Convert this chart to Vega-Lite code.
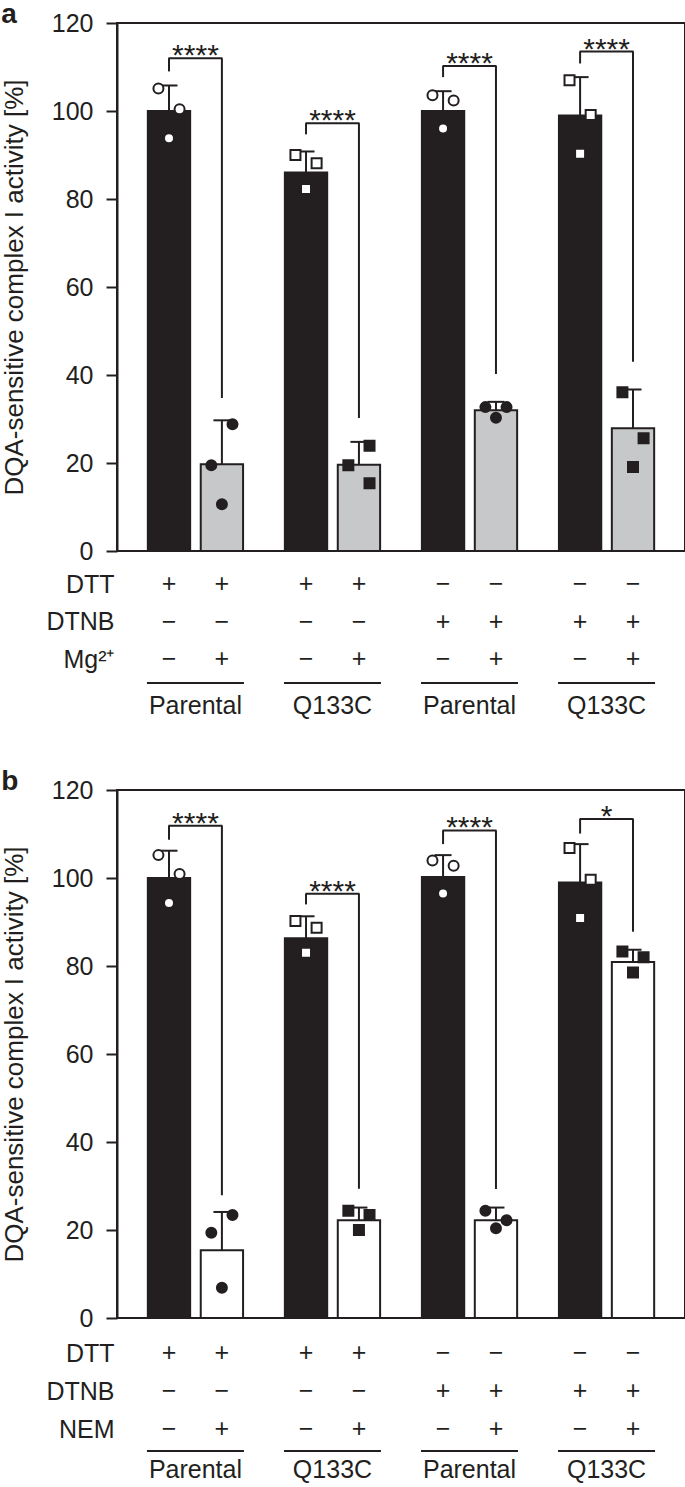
{
  "$schema": "https://vega.github.io/schema/vega-lite/v6.json",
  "padding": 0,
  "background": "white",
  "bounds": "flush",
  "spacing": 0,
  "config": {
    "font": "Liberation Sans",
    "view": {"stroke": null},
    "axis": {"labelFont": "Liberation Sans", "titleFont": "Liberation Sans", "labelColor": "#231f20", "titleColor": "#231f20", "domainColor": "#231f20", "tickColor": "#231f20"},
    "title": {"font": "Liberation Sans", "color": "#231f20"},
    "text": {"font": "Liberation Sans", "color": "#231f20"}
  },
  "datasets": {
    "barsA": [
      {"group": "G1", "line": "Parental", "treat": "minus", "kind": "ctrl", "mean": 100, "hi": 105.8},
      {"group": "G1", "line": "Parental", "treat": "plus", "kind": "Mg", "mean": 19.7, "hi": 29.7},
      {"group": "G2", "line": "Q133C", "treat": "minus", "kind": "ctrl", "mean": 86.0, "hi": 90.8},
      {"group": "G2", "line": "Q133C", "treat": "plus", "kind": "Mg", "mean": 19.6, "hi": 24.8},
      {"group": "G3", "line": "Parental", "treat": "minus", "kind": "ctrl", "mean": 100, "hi": 104.5},
      {"group": "G3", "line": "Parental", "treat": "plus", "kind": "Mg", "mean": 32.0, "hi": 33.9},
      {"group": "G4", "line": "Q133C", "treat": "minus", "kind": "ctrl", "mean": 99.0, "hi": 107.7},
      {"group": "G4", "line": "Q133C", "treat": "plus", "kind": "Mg", "mean": 27.9, "hi": 36.7}
    ],
    "ptsA": [
      {"group": "G1", "line": "Parental", "treat": "minus", "slot": "mL", "value": 105.1},
      {"group": "G1", "line": "Parental", "treat": "minus", "slot": "mR", "value": 100.4},
      {"group": "G1", "line": "Parental", "treat": "minus", "slot": "mC", "value": 93.8},
      {"group": "G1", "line": "Parental", "treat": "plus", "slot": "pR", "value": 28.8},
      {"group": "G1", "line": "Parental", "treat": "plus", "slot": "pL", "value": 19.5},
      {"group": "G1", "line": "Parental", "treat": "plus", "slot": "pC", "value": 10.6},
      {"group": "G2", "line": "Q133C", "treat": "minus", "slot": "mL", "value": 90.0},
      {"group": "G2", "line": "Q133C", "treat": "minus", "slot": "mR", "value": 88.1},
      {"group": "G2", "line": "Q133C", "treat": "minus", "slot": "mC", "value": 82.3},
      {"group": "G2", "line": "Q133C", "treat": "plus", "slot": "pR", "value": 23.9},
      {"group": "G2", "line": "Q133C", "treat": "plus", "slot": "pL", "value": 19.5},
      {"group": "G2", "line": "Q133C", "treat": "plus", "slot": "pR", "value": 15.4},
      {"group": "G3", "line": "Parental", "treat": "minus", "slot": "mL", "value": 103.6},
      {"group": "G3", "line": "Parental", "treat": "minus", "slot": "mR", "value": 102.4},
      {"group": "G3", "line": "Parental", "treat": "minus", "slot": "mC", "value": 96.0},
      {"group": "G3", "line": "Parental", "treat": "plus", "slot": "pL", "value": 32.7},
      {"group": "G3", "line": "Parental", "treat": "plus", "slot": "pR", "value": 32.7},
      {"group": "G3", "line": "Parental", "treat": "plus", "slot": "pC", "value": 30.3},
      {"group": "G4", "line": "Q133C", "treat": "minus", "slot": "mL", "value": 107.0},
      {"group": "G4", "line": "Q133C", "treat": "minus", "slot": "mR", "value": 99.1},
      {"group": "G4", "line": "Q133C", "treat": "minus", "slot": "mC", "value": 90.3},
      {"group": "G4", "line": "Q133C", "treat": "plus", "slot": "pL", "value": 36.1},
      {"group": "G4", "line": "Q133C", "treat": "plus", "slot": "pR", "value": 25.6},
      {"group": "G4", "line": "Q133C", "treat": "plus", "slot": "pC", "value": 19.1}
    ],
    "legsA": [
      {"group": "G1", "treat": "minus", "y1": 109.0, "y2": 112.0},
      {"group": "G1", "treat": "plus", "y1": 34.8, "y2": 112.0},
      {"group": "G2", "treat": "minus", "y1": 94.7, "y2": 97.2},
      {"group": "G2", "treat": "plus", "y1": 30.2, "y2": 97.2},
      {"group": "G3", "treat": "minus", "y1": 107.7, "y2": 110.2},
      {"group": "G3", "treat": "plus", "y1": 40.2, "y2": 110.2},
      {"group": "G4", "treat": "minus", "y1": 110.8, "y2": 113.5},
      {"group": "G4", "treat": "plus", "y1": 43.0, "y2": 113.5}
    ],
    "topsA": [
      {"group": "G1", "ytop": 112.0, "stars": "****"},
      {"group": "G2", "ytop": 97.2, "stars": "****"},
      {"group": "G3", "ytop": 110.2, "stars": "****"},
      {"group": "G4", "ytop": 113.5, "stars": "****"}
    ],
    "tabA": [
      {"group": "G1", "treat": "minus", "row": "DTT", "sign": "+"},
      {"group": "G1", "treat": "plus", "row": "DTT", "sign": "+"},
      {"group": "G2", "treat": "minus", "row": "DTT", "sign": "+"},
      {"group": "G2", "treat": "plus", "row": "DTT", "sign": "+"},
      {"group": "G3", "treat": "minus", "row": "DTT", "sign": "−"},
      {"group": "G3", "treat": "plus", "row": "DTT", "sign": "−"},
      {"group": "G4", "treat": "minus", "row": "DTT", "sign": "−"},
      {"group": "G4", "treat": "plus", "row": "DTT", "sign": "−"},
      {"group": "G1", "treat": "minus", "row": "DTNB", "sign": "−"},
      {"group": "G1", "treat": "plus", "row": "DTNB", "sign": "−"},
      {"group": "G2", "treat": "minus", "row": "DTNB", "sign": "−"},
      {"group": "G2", "treat": "plus", "row": "DTNB", "sign": "−"},
      {"group": "G3", "treat": "minus", "row": "DTNB", "sign": "+"},
      {"group": "G3", "treat": "plus", "row": "DTNB", "sign": "+"},
      {"group": "G4", "treat": "minus", "row": "DTNB", "sign": "+"},
      {"group": "G4", "treat": "plus", "row": "DTNB", "sign": "+"},
      {"group": "G1", "treat": "minus", "row": "Mg²⁺", "sign": "−"},
      {"group": "G1", "treat": "plus", "row": "Mg²⁺", "sign": "+"},
      {"group": "G2", "treat": "minus", "row": "Mg²⁺", "sign": "−"},
      {"group": "G2", "treat": "plus", "row": "Mg²⁺", "sign": "+"},
      {"group": "G3", "treat": "minus", "row": "Mg²⁺", "sign": "−"},
      {"group": "G3", "treat": "plus", "row": "Mg²⁺", "sign": "+"},
      {"group": "G4", "treat": "minus", "row": "Mg²⁺", "sign": "−"},
      {"group": "G4", "treat": "plus", "row": "Mg²⁺", "sign": "+"}
    ],
    "grp": [
      {"group": "G1", "line": "Parental"},
      {"group": "G2", "line": "Q133C"},
      {"group": "G3", "line": "Parental"},
      {"group": "G4", "line": "Q133C"}
    ],
    "barsB": [
      {"group": "G1", "line": "Parental", "treat": "minus", "kind": "ctrl", "mean": 100, "hi": 106.2},
      {"group": "G1", "line": "Parental", "treat": "plus", "kind": "NEM", "mean": 15.4, "hi": 24.1},
      {"group": "G2", "line": "Q133C", "treat": "minus", "kind": "ctrl", "mean": 86.3, "hi": 91.3},
      {"group": "G2", "line": "Q133C", "treat": "plus", "kind": "NEM", "mean": 22.2, "hi": 25.1},
      {"group": "G3", "line": "Parental", "treat": "minus", "kind": "ctrl", "mean": 100.2, "hi": 105.2},
      {"group": "G3", "line": "Parental", "treat": "plus", "kind": "NEM", "mean": 22.2, "hi": 25.1},
      {"group": "G4", "line": "Q133C", "treat": "minus", "kind": "ctrl", "mean": 99.0, "hi": 107.7},
      {"group": "G4", "line": "Q133C", "treat": "plus", "kind": "NEM", "mean": 80.9, "hi": 83.7}
    ],
    "ptsB": [
      {"group": "G1", "line": "Parental", "treat": "minus", "slot": "mL", "value": 105.2},
      {"group": "G1", "line": "Parental", "treat": "minus", "slot": "mR", "value": 100.9},
      {"group": "G1", "line": "Parental", "treat": "minus", "slot": "mC", "value": 94.3},
      {"group": "G1", "line": "Parental", "treat": "plus", "slot": "pR", "value": 23.4},
      {"group": "G1", "line": "Parental", "treat": "plus", "slot": "pL", "value": 19.4},
      {"group": "G1", "line": "Parental", "treat": "plus", "slot": "pC", "value": 6.9},
      {"group": "G2", "line": "Q133C", "treat": "minus", "slot": "mL", "value": 90.2},
      {"group": "G2", "line": "Q133C", "treat": "minus", "slot": "mR", "value": 88.7},
      {"group": "G2", "line": "Q133C", "treat": "minus", "slot": "mC", "value": 83.0},
      {"group": "G2", "line": "Q133C", "treat": "plus", "slot": "pL", "value": 24.4},
      {"group": "G2", "line": "Q133C", "treat": "plus", "slot": "pR", "value": 23.4},
      {"group": "G2", "line": "Q133C", "treat": "plus", "slot": "pC", "value": 20.0},
      {"group": "G3", "line": "Parental", "treat": "minus", "slot": "mL", "value": 104.0},
      {"group": "G3", "line": "Parental", "treat": "minus", "slot": "mR", "value": 102.8},
      {"group": "G3", "line": "Parental", "treat": "minus", "slot": "mC", "value": 96.5},
      {"group": "G3", "line": "Parental", "treat": "plus", "slot": "pL", "value": 24.4},
      {"group": "G3", "line": "Parental", "treat": "plus", "slot": "pR", "value": 22.2},
      {"group": "G3", "line": "Parental", "treat": "plus", "slot": "pC", "value": 20.4},
      {"group": "G4", "line": "Q133C", "treat": "minus", "slot": "mL", "value": 106.8},
      {"group": "G4", "line": "Q133C", "treat": "minus", "slot": "mR", "value": 99.6},
      {"group": "G4", "line": "Q133C", "treat": "minus", "slot": "mC", "value": 90.9},
      {"group": "G4", "line": "Q133C", "treat": "plus", "slot": "pL", "value": 83.3},
      {"group": "G4", "line": "Q133C", "treat": "plus", "slot": "pR", "value": 82.0},
      {"group": "G4", "line": "Q133C", "treat": "plus", "slot": "pC", "value": 78.5}
    ],
    "legsB": [
      {"group": "G1", "treat": "minus", "y1": 108.7, "y2": 111.9},
      {"group": "G1", "treat": "plus", "y1": 27.9, "y2": 111.9},
      {"group": "G2", "treat": "minus", "y1": 94.0, "y2": 96.4},
      {"group": "G2", "treat": "plus", "y1": 29.4, "y2": 96.4},
      {"group": "G3", "treat": "minus", "y1": 107.7, "y2": 110.8},
      {"group": "G3", "treat": "plus", "y1": 29.3, "y2": 110.8},
      {"group": "G4", "treat": "minus", "y1": 110.1, "y2": 113.4},
      {"group": "G4", "treat": "plus", "y1": 87.8, "y2": 113.4}
    ],
    "topsB": [
      {"group": "G1", "ytop": 111.9, "stars": "****"},
      {"group": "G2", "ytop": 96.4, "stars": "****"},
      {"group": "G3", "ytop": 110.8, "stars": "****"},
      {"group": "G4", "ytop": 113.4, "stars": "*"}
    ],
    "tabB": [
      {"group": "G1", "treat": "minus", "row": "DTT", "sign": "+"},
      {"group": "G1", "treat": "plus", "row": "DTT", "sign": "+"},
      {"group": "G2", "treat": "minus", "row": "DTT", "sign": "+"},
      {"group": "G2", "treat": "plus", "row": "DTT", "sign": "+"},
      {"group": "G3", "treat": "minus", "row": "DTT", "sign": "−"},
      {"group": "G3", "treat": "plus", "row": "DTT", "sign": "−"},
      {"group": "G4", "treat": "minus", "row": "DTT", "sign": "−"},
      {"group": "G4", "treat": "plus", "row": "DTT", "sign": "−"},
      {"group": "G1", "treat": "minus", "row": "DTNB", "sign": "−"},
      {"group": "G1", "treat": "plus", "row": "DTNB", "sign": "−"},
      {"group": "G2", "treat": "minus", "row": "DTNB", "sign": "−"},
      {"group": "G2", "treat": "plus", "row": "DTNB", "sign": "−"},
      {"group": "G3", "treat": "minus", "row": "DTNB", "sign": "+"},
      {"group": "G3", "treat": "plus", "row": "DTNB", "sign": "+"},
      {"group": "G4", "treat": "minus", "row": "DTNB", "sign": "+"},
      {"group": "G4", "treat": "plus", "row": "DTNB", "sign": "+"},
      {"group": "G1", "treat": "minus", "row": "NEM", "sign": "−"},
      {"group": "G1", "treat": "plus", "row": "NEM", "sign": "+"},
      {"group": "G2", "treat": "minus", "row": "NEM", "sign": "−"},
      {"group": "G2", "treat": "plus", "row": "NEM", "sign": "+"},
      {"group": "G3", "treat": "minus", "row": "NEM", "sign": "−"},
      {"group": "G3", "treat": "plus", "row": "NEM", "sign": "+"},
      {"group": "G4", "treat": "minus", "row": "NEM", "sign": "−"},
      {"group": "G4", "treat": "plus", "row": "NEM", "sign": "+"}
    ]
  },
  "vconcat": [
    {
      "title": {"text": "a", "anchor": "start", "frame": "bounds", "fontSize": 28, "fontWeight": "bold", "offset": -40, "baseline": "alphabetic"},
      "width": 568, "height": 528,
      "view": {"stroke": "#231f20", "strokeWidth": 2},
      "resolve": {"scale": {"xOffset": "independent"}},
      "layer": [
        {"data": {"name": "barsA"}, "mark": {"type": "bar", "stroke": "#231f20", "strokeWidth": 2},
          "encoding": {
            "x": {"field": "group", "type": "nominal", "scale": {"domain": ["G1", "G2", "G3", "G4"], "paddingInner": 0.305, "paddingOuter": 0.225}, "axis": null},
            "xOffset": {"field": "treat", "type": "nominal", "scale": {"type": "band", "domain": ["minus", "plus"], "paddingInner": 0.2, "paddingOuter": 0}},
            "y": {"field": "mean", "type": "quantitative", "title": "DQA-sensitive complex I activity [%]", "scale": {"domain": [0, 120], "nice": false}, "axis": {"values": [0, 20, 40, 60, 80, 100, 120], "grid": false, "labelFontSize": 25, "titleFontSize": 26, "titleFontWeight": "normal", "tickSize": 11, "tickWidth": 2, "domainWidth": 2, "labelPadding": 13, "titlePadding": 24}},
            "color": {"field": "kind", "type": "nominal", "scale": {"domain": ["ctrl", "Mg", "NEM"], "range": ["#231f20", "#c7c8ca", "#ffffff"]}, "legend": null}
          }},
        {"data": {"name": "barsA"}, "mark": {"type": "rule", "color": "#231f20", "strokeWidth": 2},
          "encoding": {
            "x": {"field": "group", "type": "nominal"},
            "xOffset": {"field": "treat", "type": "nominal", "scale": {"type": "band", "domain": ["minus", "plus"], "paddingInner": 0.2, "paddingOuter": 0}},
            "y": {"field": "mean", "type": "quantitative", "title": "DQA-sensitive complex I activity [%]"},
            "y2": {"field": "hi"}
          }},
        {"data": {"name": "barsA"}, "mark": {"type": "tick", "orient": "horizontal", "size": 17, "thickness": 2, "color": "#231f20", "opacity": 1},
          "encoding": {
            "x": {"field": "group", "type": "nominal"},
            "xOffset": {"field": "treat", "type": "nominal", "scale": {"type": "band", "domain": ["minus", "plus"], "paddingInner": 0.2, "paddingOuter": 0}},
            "y": {"field": "hi", "type": "quantitative", "title": "DQA-sensitive complex I activity [%]"}
          }},
        {"data": {"name": "ptsA"}, "mark": {"type": "point", "filled": true, "stroke": "#231f20", "strokeWidth": 2, "size": 100, "opacity": 1},
          "encoding": {
            "x": {"field": "group", "type": "nominal"},
            "xOffset": {"field": "slot", "type": "nominal", "scale": {"type": "point", "domain": ["mL", "mC", "mR", "g1", "g2", "pL", "pC", "pR"], "padding": 1.0}},
            "y": {"field": "value", "type": "quantitative", "title": "DQA-sensitive complex I activity [%]"},
            "shape": {"field": "line", "type": "nominal", "scale": {"domain": ["Parental", "Q133C"], "range": ["circle", "square"]}, "legend": null},
            "fill": {"field": "treat", "type": "nominal", "scale": {"domain": ["minus", "plus"], "range": ["#ffffff", "#231f20"]}, "legend": null}
          }},
        {"data": {"name": "legsA"}, "mark": {"type": "rule", "color": "#231f20", "strokeWidth": 2},
          "encoding": {
            "x": {"field": "group", "type": "nominal"},
            "xOffset": {"field": "treat", "type": "nominal", "scale": {"type": "band", "domain": ["minus", "plus"], "paddingInner": 0.2, "paddingOuter": 0}},
            "y": {"field": "y1", "type": "quantitative", "title": "DQA-sensitive complex I activity [%]"},
            "y2": {"field": "y2"}
          }},
        {"data": {"name": "topsA"}, "mark": {"type": "tick", "orient": "horizontal", "size": 54, "thickness": 2, "color": "#231f20", "opacity": 1},
          "encoding": {
            "x": {"field": "group", "type": "nominal"},
            "y": {"field": "ytop", "type": "quantitative", "title": "DQA-sensitive complex I activity [%]"}
          }},
        {"data": {"name": "topsA"}, "mark": {"type": "text", "fontSize": 30, "baseline": "alphabetic", "dy": 7},
          "encoding": {
            "x": {"field": "group", "type": "nominal"},
            "y": {"field": "ytop", "type": "quantitative", "title": "DQA-sensitive complex I activity [%]"},
            "text": {"field": "stars"}
          }}
      ]
    },
    {
      "width": 568, "height": 239,
      "layer": [
        {"data": {"name": "tabA"}, "mark": {"type": "text", "fontSize": 25, "baseline": "middle"},
          "encoding": {
            "x": {"field": "group", "type": "nominal", "scale": {"type": "band", "domain": ["G1", "G2", "G3", "G4"], "paddingInner": 0.305, "paddingOuter": 0.225}, "axis": null},
            "xOffset": {"field": "treat", "type": "nominal", "scale": {"type": "band", "domain": ["minus", "plus"], "paddingInner": 0.2, "paddingOuter": 0}},
            "y": {"field": "row", "type": "nominal", "scale": {"type": "point", "domain": ["DTT", "DTNB", "Mg²⁺"], "range": [33, 108], "padding": 0}, "axis": {"title": null, "ticks": false, "domain": false, "tickSize": 0, "labelFontSize": 25, "labelPadding": 3}},
            "text": {"field": "sign"}
          }},
        {"data": {"name": "grp"}, "mark": {"type": "tick", "orient": "horizontal", "size": 97, "thickness": 2, "color": "#231f20", "opacity": 1, "yOffset": 24},
          "encoding": {
            "x": {"field": "group", "type": "nominal"},
            "y": {"datum": "Mg²⁺", "type": "nominal"}
          }},
        {"data": {"name": "grp"}, "mark": {"type": "text", "fontSize": 25, "baseline": "middle", "dy": 47},
          "encoding": {
            "x": {"field": "group", "type": "nominal"},
            "y": {"datum": "Mg²⁺", "type": "nominal"},
            "text": {"field": "line"}
          }}
      ]
    },
    {
      "title": {"text": "b", "anchor": "start", "frame": "bounds", "fontSize": 28, "fontWeight": "bold", "offset": -40, "baseline": "alphabetic"},
      "width": 568, "height": 528,
      "view": {"stroke": "#231f20", "strokeWidth": 2},
      "resolve": {"scale": {"xOffset": "independent"}},
      "layer": [
        {"data": {"name": "barsB"}, "mark": {"type": "bar", "stroke": "#231f20", "strokeWidth": 2},
          "encoding": {
            "x": {"field": "group", "type": "nominal", "scale": {"domain": ["G1", "G2", "G3", "G4"], "paddingInner": 0.305, "paddingOuter": 0.225}, "axis": null},
            "xOffset": {"field": "treat", "type": "nominal", "scale": {"type": "band", "domain": ["minus", "plus"], "paddingInner": 0.2, "paddingOuter": 0}},
            "y": {"field": "mean", "type": "quantitative", "title": "DQA-sensitive complex I activity [%]", "scale": {"domain": [0, 120], "nice": false}, "axis": {"values": [0, 20, 40, 60, 80, 100, 120], "grid": false, "labelFontSize": 25, "titleFontSize": 26, "titleFontWeight": "normal", "tickSize": 11, "tickWidth": 2, "domainWidth": 2, "labelPadding": 13, "titlePadding": 24}},
            "color": {"field": "kind", "type": "nominal", "scale": {"domain": ["ctrl", "Mg", "NEM"], "range": ["#231f20", "#c7c8ca", "#ffffff"]}, "legend": null}
          }},
        {"data": {"name": "barsB"}, "mark": {"type": "rule", "color": "#231f20", "strokeWidth": 2},
          "encoding": {
            "x": {"field": "group", "type": "nominal"},
            "xOffset": {"field": "treat", "type": "nominal", "scale": {"type": "band", "domain": ["minus", "plus"], "paddingInner": 0.2, "paddingOuter": 0}},
            "y": {"field": "mean", "type": "quantitative", "title": "DQA-sensitive complex I activity [%]"},
            "y2": {"field": "hi"}
          }},
        {"data": {"name": "barsB"}, "mark": {"type": "tick", "orient": "horizontal", "size": 17, "thickness": 2, "color": "#231f20", "opacity": 1},
          "encoding": {
            "x": {"field": "group", "type": "nominal"},
            "xOffset": {"field": "treat", "type": "nominal", "scale": {"type": "band", "domain": ["minus", "plus"], "paddingInner": 0.2, "paddingOuter": 0}},
            "y": {"field": "hi", "type": "quantitative", "title": "DQA-sensitive complex I activity [%]"}
          }},
        {"data": {"name": "ptsB"}, "mark": {"type": "point", "filled": true, "stroke": "#231f20", "strokeWidth": 2, "size": 100, "opacity": 1},
          "encoding": {
            "x": {"field": "group", "type": "nominal"},
            "xOffset": {"field": "slot", "type": "nominal", "scale": {"type": "point", "domain": ["mL", "mC", "mR", "g1", "g2", "pL", "pC", "pR"], "padding": 1.0}},
            "y": {"field": "value", "type": "quantitative", "title": "DQA-sensitive complex I activity [%]"},
            "shape": {"field": "line", "type": "nominal", "scale": {"domain": ["Parental", "Q133C"], "range": ["circle", "square"]}, "legend": null},
            "fill": {"field": "treat", "type": "nominal", "scale": {"domain": ["minus", "plus"], "range": ["#ffffff", "#231f20"]}, "legend": null}
          }},
        {"data": {"name": "legsB"}, "mark": {"type": "rule", "color": "#231f20", "strokeWidth": 2},
          "encoding": {
            "x": {"field": "group", "type": "nominal"},
            "xOffset": {"field": "treat", "type": "nominal", "scale": {"type": "band", "domain": ["minus", "plus"], "paddingInner": 0.2, "paddingOuter": 0}},
            "y": {"field": "y1", "type": "quantitative", "title": "DQA-sensitive complex I activity [%]"},
            "y2": {"field": "y2"}
          }},
        {"data": {"name": "topsB"}, "mark": {"type": "tick", "orient": "horizontal", "size": 54, "thickness": 2, "color": "#231f20", "opacity": 1},
          "encoding": {
            "x": {"field": "group", "type": "nominal"},
            "y": {"field": "ytop", "type": "quantitative", "title": "DQA-sensitive complex I activity [%]"}
          }},
        {"data": {"name": "topsB"}, "mark": {"type": "text", "fontSize": 30, "baseline": "alphabetic", "dy": 7},
          "encoding": {
            "x": {"field": "group", "type": "nominal"},
            "y": {"field": "ytop", "type": "quantitative", "title": "DQA-sensitive complex I activity [%]"},
            "text": {"field": "stars"}
          }}
      ]
    },
    {
      "width": 568, "height": 160,
      "layer": [
        {"data": {"name": "tabB"}, "mark": {"type": "text", "fontSize": 25, "baseline": "middle"},
          "encoding": {
            "x": {"field": "group", "type": "nominal", "scale": {"type": "band", "domain": ["G1", "G2", "G3", "G4"], "paddingInner": 0.305, "paddingOuter": 0.225}, "axis": null},
            "xOffset": {"field": "treat", "type": "nominal", "scale": {"type": "band", "domain": ["minus", "plus"], "paddingInner": 0.2, "paddingOuter": 0}},
            "y": {"field": "row", "type": "nominal", "scale": {"type": "point", "domain": ["DTT", "DTNB", "NEM"], "range": [35, 111], "padding": 0}, "axis": {"title": null, "ticks": false, "domain": false, "tickSize": 0, "labelFontSize": 25, "labelPadding": 3}},
            "text": {"field": "sign"}
          }},
        {"data": {"name": "grp"}, "mark": {"type": "tick", "orient": "horizontal", "size": 97, "thickness": 2, "color": "#231f20", "opacity": 1, "yOffset": 22},
          "encoding": {
            "x": {"field": "group", "type": "nominal"},
            "y": {"datum": "NEM", "type": "nominal"}
          }},
        {"data": {"name": "grp"}, "mark": {"type": "text", "fontSize": 25, "baseline": "middle", "dy": 41},
          "encoding": {
            "x": {"field": "group", "type": "nominal"},
            "y": {"datum": "NEM", "type": "nominal"},
            "text": {"field": "line"}
          }}
      ]
    }
  ]
}
